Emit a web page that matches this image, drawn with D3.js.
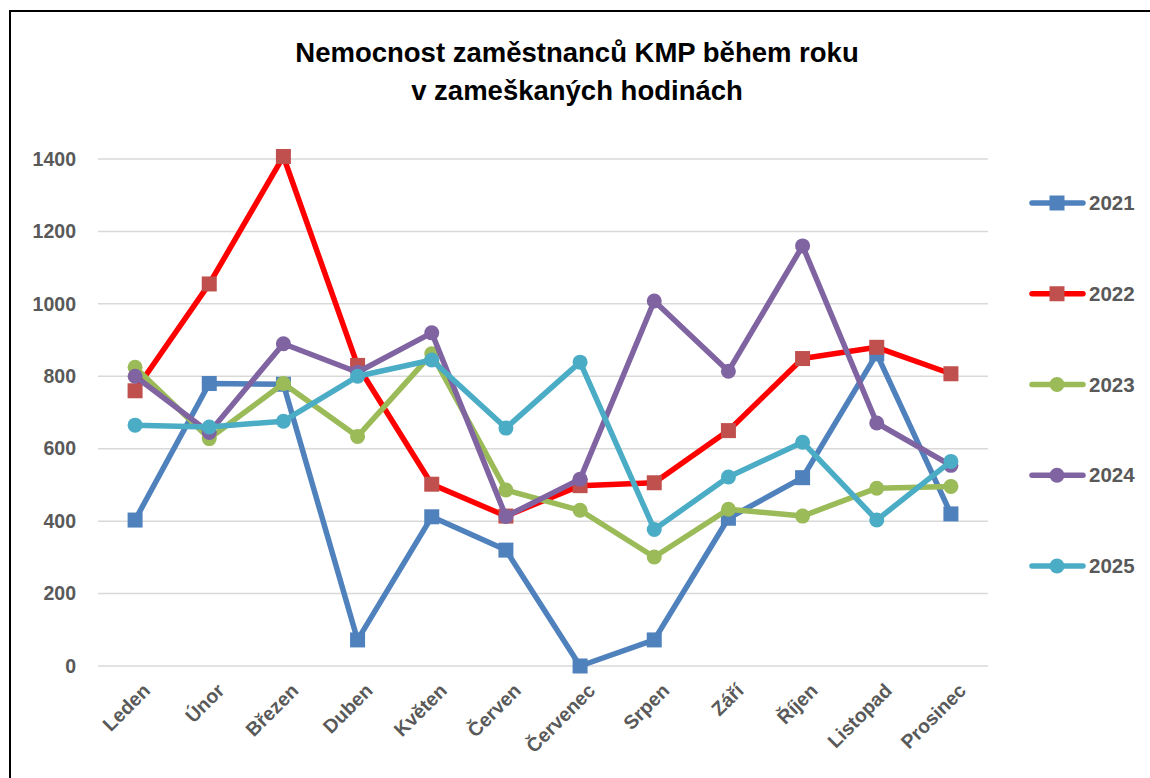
<!DOCTYPE html>
<html>
<head>
<meta charset="utf-8">
<script src="https://cdn.jsdelivr.net/npm/d3@7"></script>
<style>
  body { margin: 0; background: #fff; }
  svg { display: block; }
</style>
</head>
<body>
<svg id="chart"></svg>
<script>
// data
const months = ["Leden", "Únor", "Březen", "Duben", "Květen", "Červen",
  "Červenec", "Srpen", "Září", "Říjen", "Listopad", "Prosinec"];
const years = ["2021", "2022", "2023", "2024", "2025"];
const y2021 = [403, 780, 778, 72, 412, 320, 0, 72, 408, 520, 862, 420];
const y2022 = [760, 1055, 1407, 830, 502, 414, 498, 506, 650, 849, 880, 807];
const y2023 = [825, 628, 780, 634, 862, 486, 430, 301, 433, 414, 491, 496];
const y2024 = [800, 645, 890, 811, 920, 413, 516, 1008, 814, 1160, 671, 554];
const y2025 = [665, 660, 676, 800, 845, 657, 839, 377, 522, 618, 403, 565];
const yTicks = [0, 200, 400, 600, 800, 1000, 1200, 1400];

const series = [
  { name: years[0], values: y2021, line: "#4F81BD", mark: "#4F81BD", shape: "square" },
  { name: years[1], values: y2022, line: "#FF0000", mark: "#C0504D", shape: "square" },
  { name: years[2], values: y2023, line: "#9BBB59", mark: "#9BBB59", shape: "circle" },
  { name: years[3], values: y2024, line: "#8064A2", mark: "#8064A2", shape: "circle" },
  { name: years[4], values: y2025, line: "#4BACC6", mark: "#4BACC6", shape: "circle" }
];

const W = 1150, H = 778;
const font = "'Liberation Sans', Arial, sans-serif";
const gray = "#595959";

const svg = d3.select("#chart").attr("width", W).attr("height", H);

// frame (only top and left edges are visible in the picture)
svg.append("rect")
    .attr("x", 10).attr("y", 11)
    .attr("width", W + 20).attr("height", H + 20)
    .attr("fill", "#fff").attr("stroke", "#000").attr("stroke-width", 2);

// title
svg.append("text")
    .attr("x", 577).attr("y", 62)
    .attr("text-anchor", "middle")
    .attr("font-family", font).attr("font-weight", "bold").attr("font-size", 27.5)
    .attr("fill", "#000")
    .selectAll("tspan")
    .data(["Nemocnost zaměstnanců KMP během roku", "v zameškaných hodinách"])
    .join("tspan")
      .attr("x", 577)
      .attr("dy", (d, i) => i ? 38 : 0)
      .text(d => d);

const x = d3.scalePoint().domain(months).range([98, 988]).padding(0.5);
const y = d3.scaleLinear().domain([0, 1400]).range([666, 159]);

// grid
svg.append("g")
  .selectAll("line")
  .data(yTicks)
  .join("line")
    .attr("x1", 98).attr("x2", 988)
    .attr("y1", d => y(d)).attr("y2", d => y(d))
    .attr("stroke", "#D9D9D9").attr("stroke-width", 1.5);

// y axis labels
const yAxis = svg.append("g")
    .attr("transform", "translate(84,0)")
    .call(d3.axisLeft(y).tickValues(yTicks).tickFormat(d3.format("d")).tickSize(0).tickPadding(8));
yAxis.select(".domain").remove();
yAxis.selectAll("text")
    .attr("font-family", font).attr("font-weight", "bold").attr("font-size", 19.5)
    .attr("fill", gray);

// x axis labels
const xAxis = svg.append("g")
    .attr("transform", "translate(0,678)")
    .call(d3.axisBottom(x).tickSize(0).tickPadding(0));
xAxis.select(".domain").remove();
xAxis.selectAll("text")
    .attr("font-family", font).attr("font-weight", "bold").attr("font-size", 19.5)
    .attr("fill", gray)
    .attr("text-anchor", "end")
    .attr("dy", "0.35em")
    .attr("transform", "translate(11,9) rotate(-45)");

const line = d3.line().x((d, i) => x(months[i])).y(d => y(d));

function marker(g, s, cx, cy) {
  if (s.shape === "square") {
    const a = 15;
    g.append("rect")
        .attr("x", cx - a / 2).attr("y", cy - a / 2)
        .attr("width", a).attr("height", a)
        .attr("fill", s.mark);
  } else {
    g.append("circle")
        .attr("cx", cx).attr("cy", cy).attr("r", 7.5)
        .attr("fill", s.mark);
  }
}

series.forEach(s => {
  const g = svg.append("g");
  g.append("path")
      .attr("d", line(s.values))
      .attr("fill", "none")
      .attr("stroke", s.line)
      .attr("stroke-width", 5.5)
      .attr("stroke-linejoin", "round")
      .attr("stroke-linecap", "round");
  s.values.forEach((v, i) => marker(g, s, x(months[i]), y(v)));
});

// legend
const legendY = d3.scalePoint().domain(years).range([203, 566]);
series.forEach(s => {
  const ly = legendY(s.name);
  const g = svg.append("g");
  g.append("line")
      .attr("x1", 1032).attr("x2", 1083)
      .attr("y1", ly).attr("y2", ly)
      .attr("stroke", s.line).attr("stroke-width", 5.5)
      .attr("stroke-linecap", "round");
  marker(g, s, 1057, ly);
  g.append("text")
      .attr("x", 1089).attr("y", ly)
      .attr("dy", "0.35em")
      .attr("font-family", font).attr("font-weight", "bold").attr("font-size", 20.5)
      .attr("fill", gray)
      .text(s.name);
});
</script>
</body>
</html>
